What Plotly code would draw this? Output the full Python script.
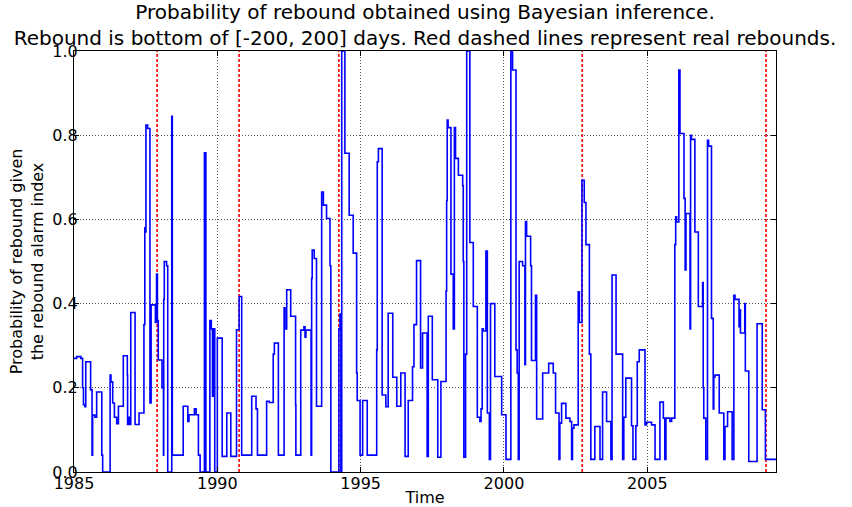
import plotly.graph_objects as go

# Posterior probability of rebound (step series), decimal years
anos = [
    1985.00, 1985.09, 1985.24, 1985.30, 1985.33, 1985.38, 1985.41, 1985.58, 1985.63, 1985.65,
    1985.73, 1985.79, 1985.97, 1986.00, 1986.26, 1986.29, 1986.35, 1986.41, 1986.49, 1986.55,
    1986.72, 1986.86, 1986.87, 1986.92, 1986.95, 1986.98, 1987.13, 1987.27, 1987.44, 1987.47,
    1987.49, 1987.51, 1987.57, 1987.65, 1987.69, 1987.84, 1987.88, 1987.91, 1987.94, 1988.07,
    1988.12, 1988.13, 1988.15, 1988.23, 1988.27, 1988.41, 1988.43, 1988.81, 1988.97, 1989.01,
    1989.20, 1989.26, 1989.34, 1989.40, 1989.55, 1989.60, 1989.74, 1989.79, 1989.83, 1989.86,
    1989.91, 1990.00, 1990.17, 1990.33, 1990.47, 1990.67, 1990.76, 1990.85, 1991.20, 1991.35,
    1991.40, 1991.72, 1991.81, 1991.95, 1991.99, 1992.13, 1992.33, 1992.36, 1992.42, 1992.56,
    1992.73, 1992.74, 1992.91, 1993.02, 1993.06, 1993.09, 1993.27, 1993.29, 1993.31, 1993.38,
    1993.46, 1993.64, 1993.70, 1993.81, 1993.93, 1993.96, 1994.24, 1994.28, 1994.31, 1994.34,
    1994.45, 1994.60, 1994.74, 1994.86, 1994.88, 1994.98, 1995.07, 1995.23, 1995.56, 1995.58,
    1995.62, 1995.75, 1995.88, 1995.96, 1996.12, 1996.26, 1996.40, 1996.55, 1996.66, 1996.81,
    1996.86, 1996.95, 1997.09, 1997.16, 1997.32, 1997.36, 1997.50, 1997.69, 1997.80, 1997.98,
    1998.00, 1998.02, 1998.05, 1998.15, 1998.23, 1998.27, 1998.31, 1998.41, 1998.56, 1998.58,
    1998.60, 1998.66, 1998.70, 1998.81, 1998.93, 1999.07, 1999.16, 1999.20, 1999.24, 1999.28,
    1999.37, 1999.42, 1999.49, 1999.53, 1999.68, 1999.92, 2000.07, 2000.24, 2000.30, 2000.42,
    2000.46, 2000.50, 2000.53, 2000.65, 2000.73, 2000.75, 2000.79, 2000.93, 2000.96, 2001.10,
    2001.14, 2001.35, 2001.56, 2001.72, 2001.80, 2001.92, 2001.95, 2002.01, 2002.16, 2002.30,
    2002.36, 2002.39, 2002.44, 2002.59, 2002.63, 2002.72, 2002.80, 2002.86, 2002.98, 2003.03,
    2003.17, 2003.35, 2003.44, 2003.58, 2003.73, 2003.77, 2003.91, 2004.14, 2004.18, 2004.25,
    2004.45, 2004.50, 2004.60, 2004.65, 2004.72, 2004.92, 2004.97, 2005.15, 2005.27, 2005.44,
    2005.56, 2005.61, 2005.65, 2005.79, 2005.85, 2005.96, 2005.99, 2006.02, 2006.10, 2006.14,
    2006.28, 2006.32, 2006.35, 2006.49, 2006.51, 2006.54, 2006.66, 2006.78, 2006.93, 2006.95,
    2006.97, 2007.04, 2007.10, 2007.14, 2007.24, 2007.30, 2007.32, 2007.36, 2007.51, 2007.67,
    2007.71, 2007.80, 2007.96, 2008.02, 2008.06, 2008.20, 2008.23, 2008.25, 2008.40, 2008.42,
    2008.54, 2008.83, 2009.01, 2009.12, 2009.49,
]
probabilidade = [
    0.27, 0.274, 0.27, 0.20, 0.16, 0.155, 0.262, 0.195, 0.04, 0.135,
    0.13, 0.19, 0.04, 0.0, 0.23, 0.214, 0.164, 0.13, 0.115, 0.156,
    0.276, 0.23, 0.113, 0.13, 0.113, 0.379, 0.113, 0.14, 0.35, 0.58,
    0.57, 0.824, 0.816, 0.164, 0.397, 0.355, 0.47, 0.36, 0.266, 0.20,
    0.04, 0.41, 0.50, 0.49, 0.0, 0.845, 0.04, 0.156, 0.12, 0.136,
    0.15, 0.136, 0.04, 0.0, 0.758, 0.0, 0.36, 0.34, 0.18, 0.34,
    0.0, 0.318, 0.037, 0.14, 0.037, 0.338, 0.417, 0.04, 0.18, 0.15,
    0.04, 0.168, 0.165, 0.28, 0.306, 0.04, 0.39, 0.34, 0.433, 0.37,
    0.16, 0.04, 0.337, 0.345, 0.32, 0.337, 0.04, 0.46, 0.527, 0.507,
    0.156, 0.665, 0.634, 0.602, 0.49, 0.0, 0.34, 0.375, 0.0, 1.0,
    0.757, 0.61, 0.52, 0.235, 0.17, 0.04, 0.17, 0.04, 0.29, 0.737,
    0.768, 0.183, 0.155, 0.377, 0.225, 0.156, 0.235, 0.037, 0.17, 0.25,
    0.35, 0.502, 0.247, 0.33, 0.037, 0.37, 0.219, 0.035, 0.215, 0.43,
    0.645, 0.836, 0.818, 0.47, 0.34, 0.818, 0.745, 0.705, 0.68, 0.50,
    0.035, 0.28, 1.0, 0.545, 0.393, 0.13, 0.12, 0.15, 0.34, 0.335,
    0.525, 0.14, 0.03, 0.40, 0.227, 0.136, 0.03, 1.0, 0.955, 0.29,
    0.235, 0.03, 0.50, 0.49, 0.255, 0.595, 0.56, 0.49, 0.265, 0.42,
    0.126, 0.235, 0.258, 0.235, 0.14, 0.03, 0.116, 0.163, 0.128, 0.12,
    0.03, 0.104, 0.112, 0.428, 0.355, 0.693, 0.64, 0.54, 0.28, 0.03,
    0.108, 0.03, 0.19, 0.12, 0.03, 0.468, 0.28, 0.03, 0.13, 0.223,
    0.11, 0.03, 0.11, 0.262, 0.29, 0.112, 0.118, 0.112, 0.03, 0.166,
    0.128, 0.03, 0.128, 0.12, 0.128, 0.54, 0.606, 0.594, 0.955, 0.804,
    0.65, 0.48, 0.614, 0.34, 0.80, 0.79, 0.57, 0.393, 0.45, 0.2,
    0.128, 0.03, 0.788, 0.774, 0.365, 0.15, 0.225, 0.23, 0.14, 0.03,
    0.108, 0.143, 0.03, 0.42, 0.41, 0.345, 0.385, 0.33, 0.40, 0.24,
    0.025, 0.352, 0.148, 0.03, 0.03,
]

# Real rebounds (red dashed lines)
rebotes = [1987.90, 1990.76, 1994.24, 2002.73, 2009.14]

x_ticks = [1985, 1990, 1995, 2000, 2005]
y_ticks = [0.0, 0.2, 0.4, 0.6, 0.8, 1.0]

fig = go.Figure()

xs, ys = [], []
for r in rebotes:
    xs += [r, r, None]
    ys += [0, 1, None]
fig.add_trace(go.Scatter(x=xs, y=ys, mode='lines',
                         line=dict(color='#ff0000', width=1.6, dash='3px,2px'),
                         showlegend=False, hoverinfo='skip'))

fig.add_trace(go.Scatter(x=anos, y=probabilidade, mode='lines',
                         line=dict(color='#0000ff', width=1.6, shape='hv'),
                         showlegend=False))

eixo = dict(showline=True, linecolor='black', linewidth=1, mirror='ticks',
            ticks='inside', ticklen=5, tickcolor='black', automargin=False,
            showgrid=True, gridcolor='#555555', gridwidth=0.8, griddash='1px,2px',
            zeroline=False, tickfont=dict(size=16, color='black'))

fig.update_layout(
    width=852, height=507,
    font=dict(family='DejaVu Sans', color='black'),
    paper_bgcolor='white', plot_bgcolor='white',
    margin=dict(l=74, r=76, t=51, b=35),
    title=dict(text='Probability of rebound obtained using Bayesian inference.<br>'
                    'Rebound is bottom of [-200, 200] days. Red dashed lines represent real rebounds.',
               x=0.5, xanchor='center', xref='paper', yref='container', y=0.962, yanchor='top',
               automargin=False, font=dict(size=20, color='black')),
    xaxis=dict(eixo, range=[1985, 2009.49], tickvals=x_ticks,
               ticktext=[str(v) for v in x_ticks], ticklabelstandoff=-3,
               title=dict(text='Time', font=dict(size=16), standoff=2)),
    yaxis=dict(eixo, range=[0, 1], tickvals=y_ticks,
               ticktext=['%.1f' % v for v in y_ticks], ticklabelstandoff=-8,
               title=dict(text='Probability of rebound given<br>the rebound alarm index',
                          font=dict(size=16), standoff=4)),
)

fig.write_html("out.html", config={'displayModeBar': False},
               post_script="document.body.style.margin='0';")
